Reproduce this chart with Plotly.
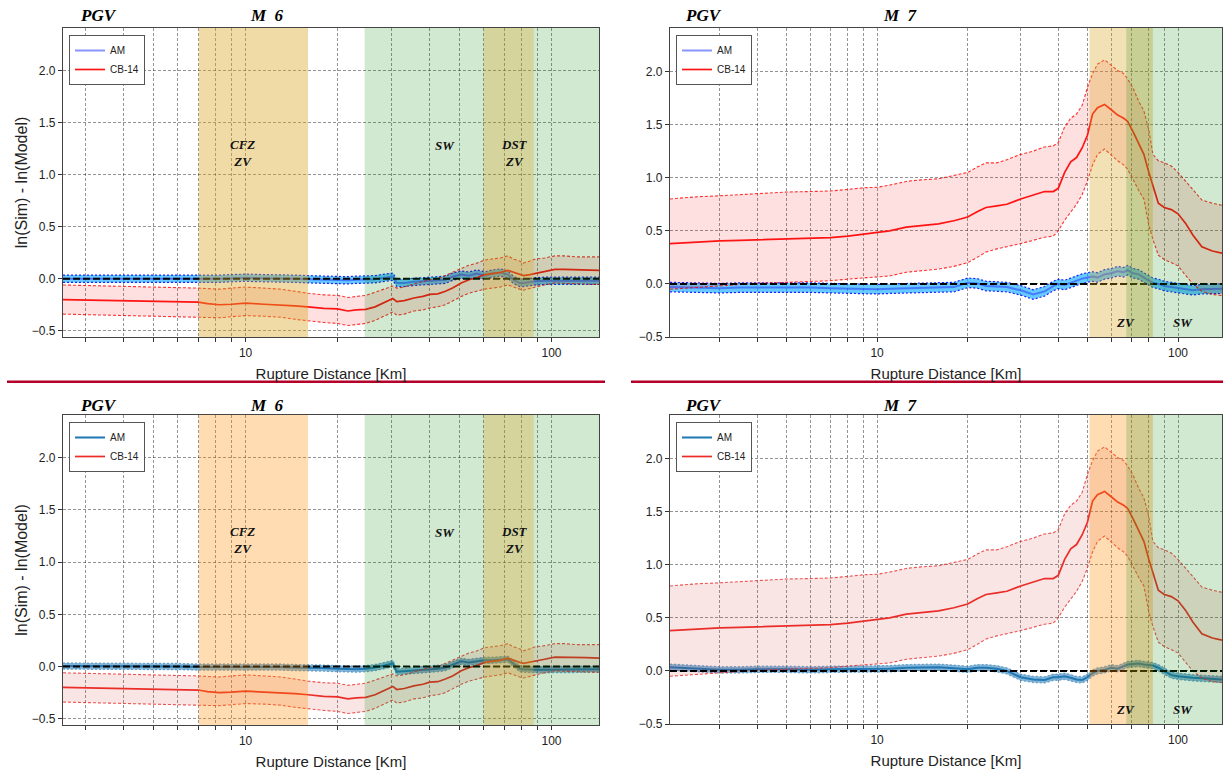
import numpy as np
import plotly.graph_objects as go

W, H = 1223, 778

# ---------------- data ----------------
# M6 panels (top-left / bottom-left)
dist6 = [2.53, 3.0, 4.0, 5.0, 6.0, 7.0, 7.5, 8.2, 9.0, 10.0, 11.5, 13.0, 14.5, 16.0, 18.0, 20.0,
         21.6, 23.0, 24.7, 26.5, 28.5, 30.3, 31.2, 33.0, 35.5, 38.0, 40.0, 42.5, 45.0, 47.5, 50.7,
         53.7, 57.0, 60.5, 64.0, 68.0, 72.0, 75.0, 78.7, 81.0, 85.0, 88.6, 95.0, 102.6, 110.0,
         120.0, 130.0, 143.0]
cb6_mean = [-0.20, -0.205, -0.21, -0.215, -0.22, -0.225, -0.24, -0.25, -0.245, -0.235, -0.245, -0.25,
            -0.26, -0.27, -0.285, -0.29, -0.31, -0.30, -0.295, -0.27, -0.23, -0.19, -0.22, -0.21,
            -0.185, -0.17, -0.15, -0.145, -0.12, -0.09, -0.04, -0.01, 0.01, 0.04, 0.05, 0.06, 0.08,
            0.06, 0.04, 0.03, 0.04, 0.05, 0.07, 0.09, 0.09, 0.085, 0.085, 0.08]
cb6_up = [-0.06, -0.065, -0.07, -0.075, -0.08, -0.09, -0.095, -0.10, -0.09, -0.08, -0.09, -0.10,
          -0.12, -0.14, -0.155, -0.16, -0.18, -0.17, -0.16, -0.13, -0.10, -0.07, -0.09, -0.08,
          -0.05, -0.03, -0.01, 0.0, 0.03, 0.06, 0.10, 0.13, 0.15, 0.18, 0.19, 0.20, 0.22, 0.19,
          0.17, 0.15, 0.17, 0.19, 0.20, 0.22, 0.22, 0.21, 0.21, 0.21]
cb6_lo = [-0.34, -0.345, -0.35, -0.355, -0.36, -0.365, -0.37, -0.375, -0.365, -0.355, -0.36, -0.37,
          -0.39, -0.405, -0.42, -0.43, -0.45, -0.44, -0.43, -0.40, -0.36, -0.32, -0.35, -0.34,
          -0.31, -0.30, -0.28, -0.27, -0.25, -0.21, -0.17, -0.14, -0.12, -0.10, -0.09, -0.08,
          -0.06, -0.08, -0.10, -0.11, -0.09, -0.08, -0.06, -0.04, -0.045, -0.05, -0.055, -0.055]
am6a_mean = [0.0, 0.0, -0.005, 0.0, -0.005, 0.0, -0.005, 0.0, 0.005, 0.01, 0.005, 0.005, 0.0,
             -0.005, -0.01, -0.015, -0.015, -0.01, -0.01, -0.005, 0.01, 0.02, -0.04, -0.04, -0.03,
             -0.025, -0.02, -0.01, -0.01, 0.02, 0.04, 0.03, 0.05, 0.03, 0.05, 0.06, 0.04, -0.01,
             -0.04, -0.04, -0.03, -0.025, -0.02, -0.02, -0.02, -0.015, -0.02, -0.02]
am6a_up = [0.035, 0.035, 0.03, 0.035, 0.03, 0.035, 0.03, 0.035, 0.04, 0.045, 0.04, 0.04, 0.035,
           0.03, 0.025, 0.02, 0.02, 0.025, 0.025, 0.03, 0.045, 0.055, -0.005, -0.005, 0.005,
           0.01, 0.015, 0.025, 0.025, 0.055, 0.075, 0.065, 0.085, 0.065, 0.085, 0.095, 0.075,
           0.025, -0.005, -0.005, 0.005, 0.01, 0.015, 0.015, 0.015, 0.02, 0.015, 0.015]
am6a_lo = [-0.035, -0.035, -0.04, -0.035, -0.04, -0.035, -0.04, -0.035, -0.03, -0.025, -0.03,
           -0.03, -0.035, -0.04, -0.045, -0.05, -0.05, -0.045, -0.045, -0.04, -0.025, -0.015,
           -0.075, -0.075, -0.065, -0.06, -0.055, -0.045, -0.045, -0.015, 0.005, -0.005, 0.015,
           -0.005, 0.015, 0.025, 0.005, -0.045, -0.075, -0.075, -0.065, -0.06, -0.055, -0.055,
           -0.055, -0.05, -0.055, -0.055]
am6b_mean = [0.005, 0.005, 0.0, 0.005, 0.0, -0.005, -0.005, -0.005, 0.0, 0.0, -0.005, -0.005,
             -0.01, -0.01, -0.015, -0.02, -0.025, -0.025, -0.02, -0.01, 0.01, 0.03, -0.05, -0.045,
             -0.035, -0.03, -0.025, -0.02, -0.01, 0.02, 0.05, 0.04, 0.05, 0.06, 0.06, 0.065, 0.07,
             0.03, -0.02, -0.025, -0.03, -0.03, -0.03, -0.03, -0.03, -0.025, -0.025, -0.025]
am6b_up = [0.035, 0.035, 0.03, 0.035, 0.03, 0.025, 0.025, 0.025, 0.03, 0.03, 0.025, 0.025, 0.02,
           0.02, 0.015, 0.01, 0.005, 0.005, 0.01, 0.02, 0.04, 0.06, -0.02, -0.015, -0.005, 0.0,
           0.005, 0.01, 0.02, 0.05, 0.08, 0.07, 0.08, 0.09, 0.09, 0.095, 0.10, 0.06, 0.01, 0.005,
           0.0, 0.0, 0.0, 0.0, 0.0, 0.005, 0.005, 0.005]
am6b_lo = [-0.025, -0.025, -0.03, -0.025, -0.03, -0.035, -0.035, -0.035, -0.03, -0.03, -0.035,
           -0.035, -0.04, -0.04, -0.045, -0.05, -0.055, -0.055, -0.05, -0.04, -0.02, 0.0, -0.08,
           -0.075, -0.065, -0.06, -0.055, -0.05, -0.04, -0.01, 0.02, 0.01, 0.02, 0.03, 0.03,
           0.035, 0.04, 0.0, -0.05, -0.055, -0.06, -0.06, -0.06, -0.06, -0.06, -0.055, -0.055,
           -0.055]

# M7 panels (top-right / bottom-right)
dist7 = [2.05, 2.5, 3.0, 3.5, 4.0, 5.0, 6.0, 7.0, 8.0, 9.0, 10.0, 11.0, 12.5, 14.0, 16.0, 18.0,
         20.0, 21.5, 23.0, 25.0, 27.0, 30.0, 33.0, 36.0, 38.5, 40.0, 42.0, 44.0, 46.0, 48.0, 50.0,
         52.0, 54.0, 57.0, 60.0, 63.0, 66.0, 68.0, 71.0, 74.0, 77.0, 80.0, 82.5, 86.0, 90.0, 95.0,
         100.0, 106.0, 112.0, 120.0, 130.0, 140.0]
cb7_mean = [0.38, 0.395, 0.405, 0.41, 0.415, 0.42, 0.425, 0.435, 0.45, 0.47, 0.485, 0.50, 0.535,
            0.55, 0.565, 0.595, 0.63, 0.68, 0.72, 0.735, 0.75, 0.80, 0.84, 0.87, 0.87, 0.90, 1.05,
            1.15, 1.19, 1.28, 1.40, 1.60, 1.66, 1.69, 1.64, 1.59, 1.56, 1.53, 1.43, 1.33, 1.22,
            1.05, 0.92, 0.76, 0.72, 0.70, 0.66, 0.57, 0.46, 0.35, 0.31, 0.29]
cb7_up = [0.80, 0.82, 0.83, 0.84, 0.855, 0.865, 0.87, 0.875, 0.89, 0.905, 0.91, 0.93, 0.965, 0.98,
          0.99, 1.02, 1.05, 1.10, 1.14, 1.14, 1.17, 1.22, 1.25, 1.29, 1.30, 1.33, 1.48, 1.56, 1.60,
          1.68, 1.85, 1.98, 2.07, 2.11, 2.06, 2.01, 1.98, 1.93, 1.84, 1.72, 1.63, 1.45, 1.22, 1.16,
          1.14, 1.11, 1.05, 0.97, 0.89, 0.79, 0.76, 0.74]
cb7_lo = [-0.05, -0.035, -0.015, -0.005, 0.005, 0.015, 0.02, 0.03, 0.045, 0.055, 0.06, 0.075,
          0.11, 0.125, 0.14, 0.165, 0.20, 0.25, 0.30, 0.33, 0.35, 0.38, 0.41, 0.44, 0.45, 0.50,
          0.60, 0.68, 0.75, 0.84, 0.97, 1.12, 1.22, 1.27, 1.21, 1.16, 1.12, 1.08, 0.98, 0.88, 0.80,
          0.55, 0.42, 0.27, 0.23, 0.20, 0.17, 0.08, 0.0, -0.07, -0.10, -0.11]
am7a_mean = [-0.03, -0.035, -0.04, -0.035, -0.035, -0.03, -0.035, -0.04, -0.045, -0.045, -0.05,
             -0.045, -0.04, -0.04, -0.035, -0.03, 0.01, 0.005, -0.02, -0.025, -0.03, -0.06, -0.10,
             -0.07, -0.02, 0.0, -0.01, 0.01, 0.03, 0.05, 0.06, 0.07, 0.06, 0.09, 0.10, 0.12, 0.11,
             0.13, 0.10, 0.09, 0.06, 0.03, 0.01, 0.0, -0.02, -0.03, -0.04, -0.05, -0.06, -0.05,
             -0.05, -0.045]
am7a_up = [0.015, 0.01, 0.005, 0.01, 0.01, 0.015, 0.01, 0.005, 0.0, 0.0, -0.005, 0.0, 0.005,
           0.005, 0.01, 0.015, 0.055, 0.05, 0.025, 0.02, 0.015, -0.015, -0.055, -0.025, 0.025,
           0.045, 0.035, 0.055, 0.075, 0.095, 0.105, 0.115, 0.105, 0.135, 0.145, 0.165, 0.155,
           0.175, 0.145, 0.135, 0.105, 0.075, 0.055, 0.045, 0.025, 0.015, 0.005, -0.005, -0.015,
           -0.005, -0.005, 0.0]
am7a_lo = [-0.075, -0.08, -0.085, -0.08, -0.08, -0.075, -0.08, -0.085, -0.09, -0.09, -0.095,
           -0.09, -0.085, -0.085, -0.08, -0.075, -0.035, -0.04, -0.065, -0.07, -0.075, -0.105,
           -0.145, -0.115, -0.065, -0.045, -0.055, -0.035, -0.015, 0.005, 0.015, 0.025, 0.015,
           0.045, 0.055, 0.075, 0.065, 0.085, 0.055, 0.045, 0.015, -0.015, -0.035, -0.045, -0.065,
           -0.075, -0.085, -0.095, -0.105, -0.095, -0.095, -0.09]
am7b_mean = [0.035, 0.025, 0.01, 0.01, 0.015, 0.015, 0.01, 0.015, 0.015, 0.02, 0.015, 0.02, 0.03,
             0.035, 0.035, 0.025, 0.015, 0.03, 0.03, 0.02, 0.0, -0.06, -0.08, -0.085, -0.06, -0.06,
             -0.05, -0.065, -0.08, -0.085, -0.06, -0.02, 0.0, 0.01, 0.03, 0.02, 0.04, 0.06, 0.065,
             0.07, 0.06, 0.055, 0.05, 0.03, 0.0, -0.04, -0.05, -0.06, -0.065, -0.07, -0.075, -0.08]
am7b_up = [0.065, 0.055, 0.04, 0.04, 0.045, 0.045, 0.04, 0.045, 0.045, 0.05, 0.045, 0.05, 0.06,
           0.065, 0.065, 0.055, 0.045, 0.06, 0.06, 0.05, 0.03, -0.03, -0.05, -0.055, -0.03, -0.03,
           -0.02, -0.035, -0.05, -0.055, -0.03, 0.01, 0.03, 0.04, 0.06, 0.05, 0.07, 0.09, 0.095,
           0.10, 0.09, 0.085, 0.08, 0.06, 0.03, -0.01, -0.02, -0.03, -0.035, -0.04, -0.045, -0.05]
am7b_lo = [0.005, -0.005, -0.02, -0.02, -0.015, -0.015, -0.02, -0.015, -0.015, -0.01, -0.015,
           -0.01, 0.0, 0.005, 0.005, -0.005, -0.015, 0.0, 0.0, -0.01, -0.03, -0.09, -0.11, -0.115,
           -0.09, -0.09, -0.08, -0.095, -0.11, -0.115, -0.09, -0.05, -0.03, -0.02, 0.0, -0.01,
           0.01, 0.03, 0.035, 0.04, 0.03, 0.025, 0.02, 0.0, -0.03, -0.07, -0.08, -0.09, -0.095,
           -0.10, -0.105, -0.11]

# axis ranges / ticks
x6_range = [2.53, 143.0]
x7_range = [2.05, 140.0]
y6_range = [-0.56, 2.41]
y7_range = [-0.5, 2.41]
xtick_vals = [2, 3, 4, 5, 6, 7, 8, 9, 10, 20, 30, 40, 50, 60, 70, 80, 90, 100, 200]
xtick_text = ["", "", "", "", "", "", "", "", "10", "", "", "", "", "", "", "", "", "100", ""]
ytick_vals = [-0.5, 0.0, 0.5, 1.0, 1.5, 2.0]

# shaded zones and their labels (label text, x, y)
zones6 = [(7.03, 16.0), (24.5, 143.0), (60.0, 87.5)]
labels6 = [("CFZ<br>ZV", 9.8, 1.21), ("SW", 44.8, 1.285), ("DST<br>ZV", 75.5, 1.21)]
zones7 = [(50.8, 82.5), (67.3, 140.0)]
labels7 = [("ZV", 66.7, -0.365), ("SW", 104.0, -0.365)]

# ---------------- figure ----------------
def px_x(p):
    return p / W

def px_y(p):
    return 1 - p / H

panels = {
    1: dict(xd=[px_x(63), px_x(599)], yd=[px_y(337), px_y(28)], xr=x6_range, yr=y6_range, left=True),
    2: dict(xd=[px_x(670), px_x(1222)], yd=[px_y(337), px_y(28)], xr=x7_range, yr=y7_range, left=False),
    3: dict(xd=[px_x(63), px_x(599)], yd=[px_y(725), px_y(415)], xr=x6_range, yr=y6_range, left=True),
    4: dict(xd=[px_x(670), px_x(1222)], yd=[px_y(724), px_y(415)], xr=x7_range, yr=y7_range, left=False),
}

FONT = "Liberation Sans, Arial, sans-serif"
SERIF = "Liberation Serif, Times New Roman, serif"
GRID = "rgba(0,0,0,0.42)"

fig = go.Figure()

top_style = dict(
    am_fill="rgba(0,165,255,0.6)", am_edge="rgba(0,0,255,0.85)", am_line="rgba(40,60,255,0.55)",
    cb_fill="rgba(255,0,0,0.12)", cb_edge="rgba(255,0,0,0.8)", cb_line="rgb(255,20,20)",
)
bot_style = dict(
    am_fill="rgba(31,119,180,0.55)", am_edge="rgba(31,119,180,0.55)", am_line="rgb(31,119,180)",
    cb_fill="rgba(214,39,40,0.12)", cb_edge="rgba(235,40,40,0.8)", cb_line="rgb(235,45,40)",
)

series = {
    1: (dist6, am6a_mean, am6a_up, am6a_lo, cb6_mean, cb6_up, cb6_lo, top_style),
    2: (dist7, am7a_mean, am7a_up, am7a_lo, cb7_mean, cb7_up, cb7_lo, top_style),
    3: (dist6, am6b_mean, am6b_up, am6b_lo, cb6_mean, cb6_up, cb6_lo, bot_style),
    4: (dist7, am7b_mean, am7b_up, am7b_lo, cb7_mean, cb7_up, cb7_lo, bot_style),
}

for i, (d, am_m, am_u, am_l, cb_m, cb_u, cb_l, st) in series.items():
    xa = "x" if i == 1 else f"x{i}"
    ya = "y" if i == 1 else f"y{i}"
    lg = "legend" if i == 1 else f"legend{i}"
    common = dict(xaxis=xa, yaxis=ya, hoverinfo="skip", legend=lg)
    # AM band
    fig.add_trace(go.Scatter(x=d, y=am_l, mode="lines", showlegend=False,
                             line=dict(color=st["am_edge"], width=1.2, dash="2px,2px"), **common))
    fig.add_trace(go.Scatter(x=d, y=am_u, mode="lines", showlegend=False, fill="tonexty",
                             fillcolor=st["am_fill"],
                             line=dict(color=st["am_edge"], width=1.2, dash="2px,2px"), **common))
    fig.add_trace(go.Scatter(x=d, y=am_m, mode="lines", name="AM", showlegend=True,
                             line=dict(color=st["am_line"], width=2), **common))
    # CB-14 band
    fig.add_trace(go.Scatter(x=d, y=cb_l, mode="lines", showlegend=False,
                             line=dict(color=st["cb_edge"], width=1.1, dash="3px,2px"), **common))
    fig.add_trace(go.Scatter(x=d, y=cb_u, mode="lines", showlegend=False, fill="tonexty",
                             fillcolor=st["cb_fill"],
                             line=dict(color=st["cb_edge"], width=1.1, dash="3px,2px"), **common))
    fig.add_trace(go.Scatter(x=d, y=cb_m, mode="lines", name="CB-14", showlegend=True,
                             line=dict(color=st["cb_line"], width=1.7), **common))
    # zero reference line
    fig.add_trace(go.Scatter(x=[d[0], d[-1]], y=[0, 0], mode="lines", showlegend=False,
                             line=dict(color="black", width=2, dash="7px,3px"), **common))

layout = dict(
    width=W, height=H, margin=dict(l=0, r=0, t=0, b=0),
    paper_bgcolor="white", plot_bgcolor="white",
    font=dict(family=FONT, size=12, color="#222"),
    shapes=[], annotations=[],
)

for i, p in panels.items():
    xs = "xaxis" if i == 1 else f"xaxis{i}"
    ys = "yaxis" if i == 1 else f"yaxis{i}"
    yref = "y" if i == 1 else f"y{i}"
    xref = "x" if i == 1 else f"x{i}"
    layout[xs] = dict(
        domain=p["xd"], anchor=yref, type="log",
        range=[np.log10(p["xr"][0]), np.log10(p["xr"][1])],
        tickmode="array", tickvals=xtick_vals, ticktext=xtick_text,
        ticks="outside", ticklen=4, tickwidth=1, tickcolor="#333",
        showgrid=True, gridcolor=GRID, gridwidth=0.8, griddash="3px,2px",
        showline=True, linecolor="#444", linewidth=1.2, mirror=True, zeroline=False,
        tickfont=dict(size=12, family=FONT, color="#222"),
        title=dict(text="Rupture Distance [Km]", font=dict(size=15, family=FONT, color="#222"),
                   standoff=9),
        automargin=False,
    )
    layout[ys] = dict(
        domain=p["yd"], anchor=xref, range=p["yr"],
        tickmode="array", tickvals=ytick_vals, tickformat=".1f",
        ticks="outside", ticklen=4, tickwidth=1, tickcolor="#333",
        showgrid=True, gridcolor=GRID, gridwidth=0.8, griddash="3px,2px",
        showline=True, linecolor="#444", linewidth=1.2, mirror=True, zeroline=False,
        tickfont=dict(size=12, family=FONT, color="#222"),
        automargin=False,
    )
    if p["left"]:
        layout[ys]["title"] = dict(text="ln(Sim) - ln(Model)",
                                   font=dict(size=16, family=FONT, color="#222"), standoff=0)

    # legends
    lg = "legend" if i == 1 else f"legend{i}"
    lx = 69 if p["left"] else 676
    ly = 35 if i in (1, 2) else 422
    layout[lg] = dict(x=px_x(lx), y=px_y(ly), xanchor="left", yanchor="top",
                      bgcolor="white", bordercolor="#555", borderwidth=1,
                      font=dict(size=10, family=FONT, color="#222"),
                      itemwidth=30, tracegroupgap=0, traceorder="normal")

    # shaded zones
    top = i in (1, 2)
    if p["left"]:
        fills = ["rgba(218,165,32,0.4)" if top else "rgba(255,140,0,0.3)",
                 "rgba(0,128,0,0.18)", "rgba(218,165,32,0.3)"]
        zones, labels = zones6, labels6
    else:
        fills = ["rgba(218,165,32,0.33)" if top else "rgba(255,140,0,0.3)",
                 "rgba(0,128,0,0.18)"]
        zones, labels = zones7, labels7
    for (x0, x1), fc in zip(zones, fills):
        layout["shapes"].append(dict(type="rect", xref=xref, yref=f"{yref} domain",
                                     x0=x0, x1=x1, y0=0, y1=1, fillcolor=fc,
                                     line=dict(width=0), layer="above"))
    for txt, lxv, lyv in labels:
        layout["annotations"].append(dict(
            text=f"<b><i>{txt}</i></b>", xref=xref, yref=yref, x=np.log10(lxv), y=lyv,
            showarrow=False, font=dict(family=SERIF, size=13, color="#111"),
            xanchor="center", yanchor="middle"))

    # panel titles
    cx_pgv = 98 if p["left"] else 703
    cx_m = 267 if p["left"] else 900
    ty = 15 if top else 405
    mag = "6" if p["left"] else "7"
    layout["annotations"].append(dict(text="<b><i>PGV</i></b>", xref="paper", yref="paper",
                                      x=px_x(cx_pgv), y=px_y(ty), showarrow=False,
                                      font=dict(family=SERIF, size=17, color="black"),
                                      xanchor="center", yanchor="middle"))
    layout["annotations"].append(dict(text=f"<b><i>M\u00a0\u00a0{mag}</i></b>", xref="paper",
                                      yref="paper", x=px_x(cx_m), y=px_y(ty), showarrow=False,
                                      font=dict(family=SERIF, size=17, color="black"),
                                      xanchor="center", yanchor="middle"))

# separators
for x0, x1 in [(7, 605), (631, 1223)]:
    layout["shapes"].append(dict(type="line", xref="paper", yref="paper",
                                 x0=px_x(x0), x1=px_x(x1), y0=px_y(381.7), y1=px_y(381.7),
                                 line=dict(color="rgb(180,0,40)", width=2.5)))

fig.update_layout(**layout)
fig.write_html("out.html")
